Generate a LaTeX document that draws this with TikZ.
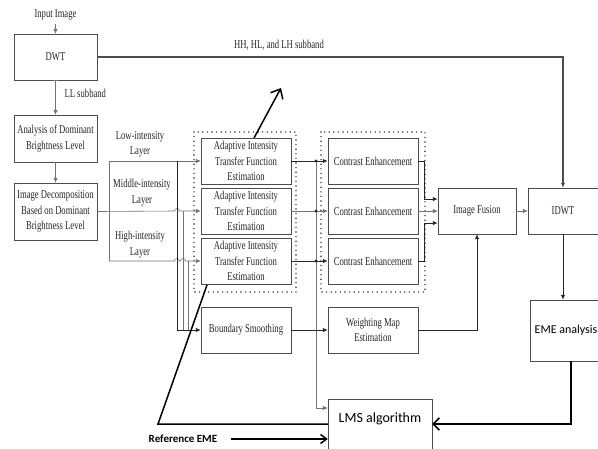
\documentclass[tikz,border=0pt]{standalone}
\usepackage{fontspec}
\setmainfont{Liberation Serif}
\newfontfamily\narrowserif[FakeStretch=0.72]{Liberation Serif}
\newfontfamily\calibsans{Carlito}
\usepackage{tikz}
\usetikzlibrary{arrows.meta}

\tikzset{
  box/.style={draw=black!70, fill=white, minimum width=90pt, minimum height=46pt,
    inner sep=1pt, align=center, text=black!85,
    font=\narrowserif\fontsize{12}{15.5}\selectfont},
  lbl/.style={align=center, text=black!85, font=\narrowserif\fontsize{12}{15.5}\selectfont},
  sansbox/.style={box, font=\calibsans\fontsize{14}{16}\selectfont, text=black},
  dotbox/.style={draw=black!80, line width=1.6pt, line cap=round, dash pattern=on 0pt off 4.6pt},
  wire/.style={draw=black!55, line width=0.6pt},
  conn/.style={wire, -{Latex[length=5pt,width=4.5pt]}},
  darkconn/.style={conn, draw=black!85, line width=0.9pt},
  heavy/.style={draw=black, line width=1.5pt},
}

\begin{document}
\begin{tikzpicture}[x=1pt,y=-1pt]
        \useasboundingbox (0,0) rectangle (598,448);
        % dotted groups
        \draw[dotbox] (194,132) rectangle (296,292);
        \draw[dotbox] (321,132) rectangle (425,292);
        % left column
        \node[lbl] (inp) at (55.5,15) {Input Image};
        \node[box, minimum width=83pt] (dwt) at (55.5,57) {DWT};
        \node[box, minimum width=83pt, minimum height=47pt] (ana) at (55.5,138.5) {Analysis of Dominant\\Brightness Level};
        \node[box, minimum width=83pt, minimum height=57pt] (dec) at (55.5,211.5) {Image Decomposition\\Based on Dominant\\Brightness Level};
        \node[lbl] (hh) at (279,45) {HH, HL, and LH subband};
        \node[lbl, anchor=west] (ll) at (61,93) {LL subband};
        % layers
        \node[lbl] (low) at (140,144.5) {Low-intensity\\Layer};
        \node[lbl] (mid) at (142,192.5) {Middle-intensity\\Layer};
        \node[lbl] (high) at (140,244.5) {High-intensity\\Layer};
        % transfer functions and enhancement
        \node[box] (atf1) at (246,161) {Adaptive Intensity\\Transfer Function\\Estimation};
        \node[box] (atf2) at (246,211) {Adaptive Intensity\\Transfer Function\\Estimation};
        \node[box] (atf3) at (246,261) {Adaptive Intensity\\Transfer Function\\Estimation};
        \node[box] (ce1) at (373,161) {Contrast Enhancement};
        \node[box] (ce2) at (373,211) {Contrast Enhancement};
        \node[box] (ce3) at (373,261) {Contrast Enhancement};
        \node[box] (bsm) at (246,330) {Boundary Smoothing};
        \node[box] (wme) at (373,330) {Weighting Map\\Estimation};
        \node[box, minimum width=78pt] (fus) at (477,211) {Image Fusion};
        \node[box, minimum width=70pt] (idwt) at (563,211) {IDWT};
        \node[sansbox, font=\calibsans\fontsize{12}{14}\selectfont, minimum width=72pt, minimum height=61pt] (eme) at (566,330.5) {EME analysis};
        \node[sansbox, minimum width=104pt, minimum height=50pt, text depth=12pt] (lms) at (380,424) {LMS algorithm};
        \node[font=\calibsans\bfseries\fontsize{11}{13}\selectfont] (ref) at (183,439) {Reference EME};
        \coordinate (lt) at (109,161);
        \coordinate (lb) at (109,261);
        \coordinate (tap) at (316,408);

        \draw[conn] (inp) -- (dwt);
        \draw[conn, {Bar[width=5pt]}-{Latex[length=5pt,width=4.5pt]}] (dwt) -- (ana);
        \draw[conn] (ana) -- (dec);
        \draw[darkconn, draw=black!70, line width=1.2pt] (dwt) -| (idwt);
        % layer lines with hops
        \draw[conn] (lb) -- (lt) -- (atf1.west);
        \draw[conn] (dec.east) -- (174.5,211) arc (180:360:2.5) -- (atf2.west);
        \draw[conn] (lb) -- (174.5,261) arc (180:360:2.5) -- (180.5,261) arc (180:360:2.5) -- (atf3.west);
        \draw[darkconn] (177,161) -- (177,330) -- (bsm.west);
        \draw[wire] (183,211) -- (183,330);
        \draw[wire] (188,261) -- (188,330);

        \draw[darkconn] (atf1) -- (ce1);
        \draw[conn] (atf2) -- (ce2);
        \draw[darkconn] (atf3) -- (ce3);
        \draw[conn] (316,161) -- (tap) -- (tap -| lms.west);
        \foreach \y in {161,211,261}
          \fill[black!85] (316,\y) circle (1.6pt);

        \draw[darkconn] (ce1.east) -- ++(6,0) |- ([yshift=12pt]fus.west);
        \draw[conn] (ce2) -- (fus);
        \draw[darkconn] (ce3.east) -- ++(6,0) |- ([yshift=-12pt]fus.west);
        \draw[darkconn] (bsm) -- (wme);
        \draw[darkconn] (wme) -| (fus);
        \draw[conn] (fus) -- (idwt);
        \draw[darkconn] (idwt) -- (idwt.south |- eme.north);
        % feedback loop
        \draw[heavy, -{Straight Barb[length=6pt,width=12pt]}] ([xshift=5pt]eme.south) |- (lms);
        \draw[heavy] (lms.west) -- (158,424) -- (207,285);
        \draw[heavy, -{Straight Barb[length=8pt,width=14pt]}] (254,138) -- (281,88);
        \draw[heavy, -{Straight Barb[length=6pt,width=9pt]}] ([xshift=10pt]ref.east) -- (ref.east -| lms.west);
\end{tikzpicture}
\end{document}
